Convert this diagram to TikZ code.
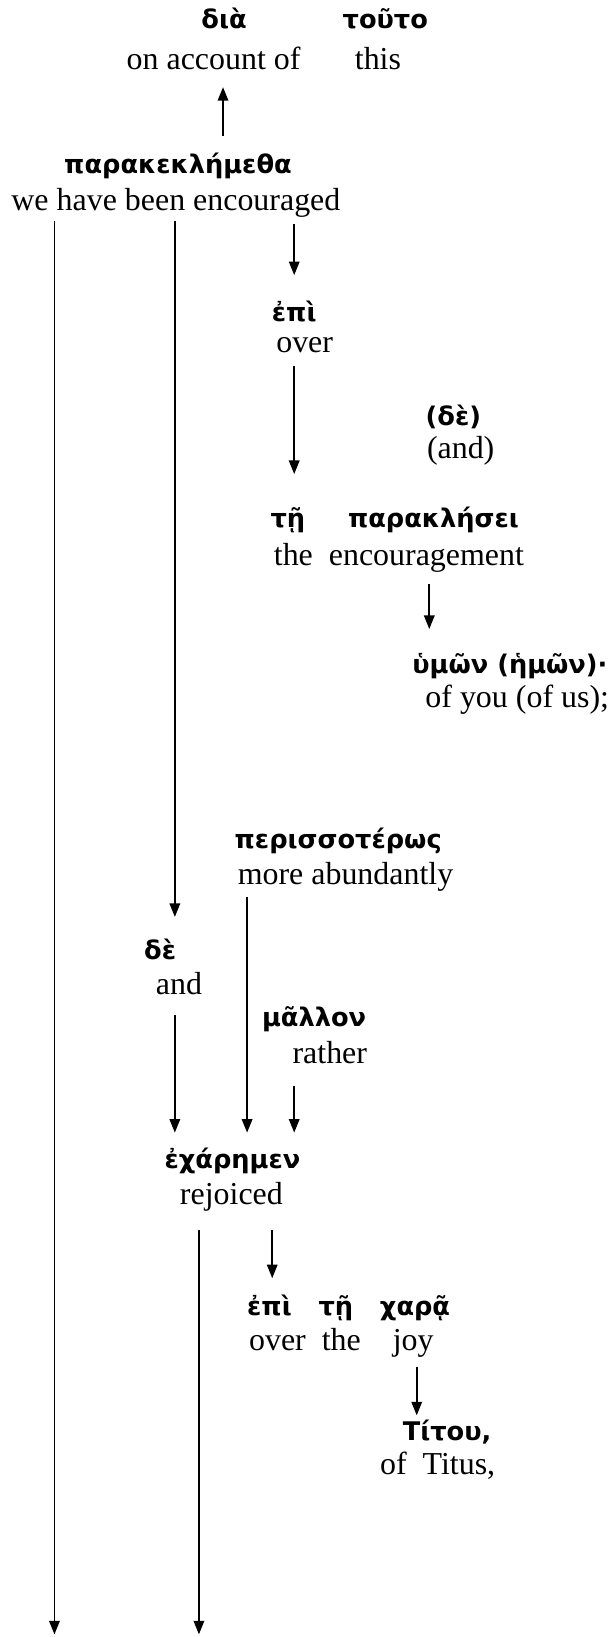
\documentclass[tikz,border=0pt]{standalone}
\usepackage{fontspec}
\setmainfont{Liberation Serif}
\newfontfamily\grk{DejaVu Sans}
\usetikzlibrary{arrows.meta}
\tikzset{
  gk/.style={font=\grk\bfseries\fontsize{24.5}{28}\selectfont, inner sep=0pt,
             text height=20pt, text depth=6pt, anchor=base},
  en/.style={font=\fontsize{30.5}{34}\selectfont, inner sep=0pt,
             text height=21pt, text depth=7pt, anchor=base},
  conn/.style={line width=1.8pt, -{Triangle[length=13pt,width=10pt]}},
}
\begin{document}
\begin{tikzpicture}[x=1pt,y=-1pt]
\useasboundingbox (0,0) rectangle (585.5,1563.5);
% column positions of the connectors
\coordinate (colA) at (52,0);
\coordinate (colB) at (167,0);
\coordinate (colC) at (190,0);
\coordinate (colD) at (213,0);
\coordinate (colE) at (236,0);
\coordinate (colF) at (260,0);
\coordinate (colG) at (281,0);
\coordinate (colH) at (398,0);
\coordinate (colI) at (410,0);
% top
\node[gk] (dia) at (214,27.5) {διὰ};
\node[gk] (touto) at (368,27.5) {τοῦτο};
\node[en] (dia-e) at (204,66) {on account of};
\node[en] (touto-e) at (361,66) {this};
% main verb
\node[gk] (par) at (170,166) {παρακεκλήμεθα};
\node[en] (par-e) at (168,201) {we have been encouraged};
% epi
\node[gk] (epi) at (281,307) {ἐπὶ};
\node[en] (epi-e) at (291,337) {over};
\node[gk] (de1) at (433,406) {(δὲ)};
\node[en] (de1-e) at (440,437.6) {(and)};
\node[gk] (te) at (275,504) {τῇ};
\node[gk] (parak) at (414,504) {παρακλήσει};
\node[en] (te-e) at (381,540.1) {the\ \ encouragement};
\node[gk] (hymon) at (487,643) {ὑμῶν (ἡμῶν)·};
\node[en] (hymon-e) at (494,676.1) {of you (of us);};
% second clause
\node[gk] (peri) at (323,810) {περισσοτέρως};
\node[en] (peri-e) at (330,845.1) {more abundantly};
\node[gk] (de2) at (153,916) {δὲ};
\node[en] (de2-e) at (171,950) {and};
\node[gk] (mallon) at (300,980) {μᾶλλον};
\node[en] (mallon-e) at (315,1016) {rather};
\node[gk] (echar) at (222,1116) {ἐχάρημεν};
\node[en] (echar-e) at (221,1150) {rejoiced};
\node[gk] (epi2) at (333,1256) {ἐπὶ\ \ \ τῇ\ \ \ χαρᾷ};
\node[en] (epi2-e) at (326,1290) {over\ \ the\ \ \ \ joy};
\node[gk] (titou) at (427,1376) {Τίτου,};
\node[en] (titou-e) at (418,1408) {of\ \ Titus,};
% free ends
\coordinate (end1) at (52,1561);
\coordinate (end2) at (190,1561);
% connectors
\draw[conn, shorten <=16pt, shorten >=10pt] (par.north -| colD) -- (dia-e.south -| colD);
\draw[conn, shorten <=3pt] (par-e.south -| colA) -- (end1);
\draw[conn, shorten <=3pt, shorten >=20pt] (par-e.south -| colB) -- (de2.north -| colB);
\draw[conn, shorten <=6pt, shorten >=24pt] (par-e.south -| colG) -- (epi.north -| colG);
\draw[conn, shorten <=5pt, shorten >=31pt] (epi-e.south -| colG) -- (te.north -| colG);
\draw[conn, shorten <=10pt, shorten >=22pt] (te-e.south -| colI) -- (hymon.north -| colI);
\draw[conn, shorten <=4pt, shorten >=14pt] (peri-e.south -| colE) -- (echar.north -| colE);
\draw[conn, shorten <=12pt, shorten >=14pt] (de2-e.south -| colB) -- (echar.north -| colB);
\draw[conn, shorten <=14pt, shorten >=14pt] (mallon-e.south -| colG) -- (echar.north -| colG);
\draw[conn, shorten <=18pt] (echar-e.south -| colC) -- (end2);
\draw[conn, shorten <=18pt, shorten >=15pt] (echar-e.south -| colF) -- (epi2.north -| colF);
\draw[conn, shorten <=8pt, shorten >=4pt] (epi2-e.south -| colH) -- (titou.north -| colH);
\end{tikzpicture}
\end{document}
